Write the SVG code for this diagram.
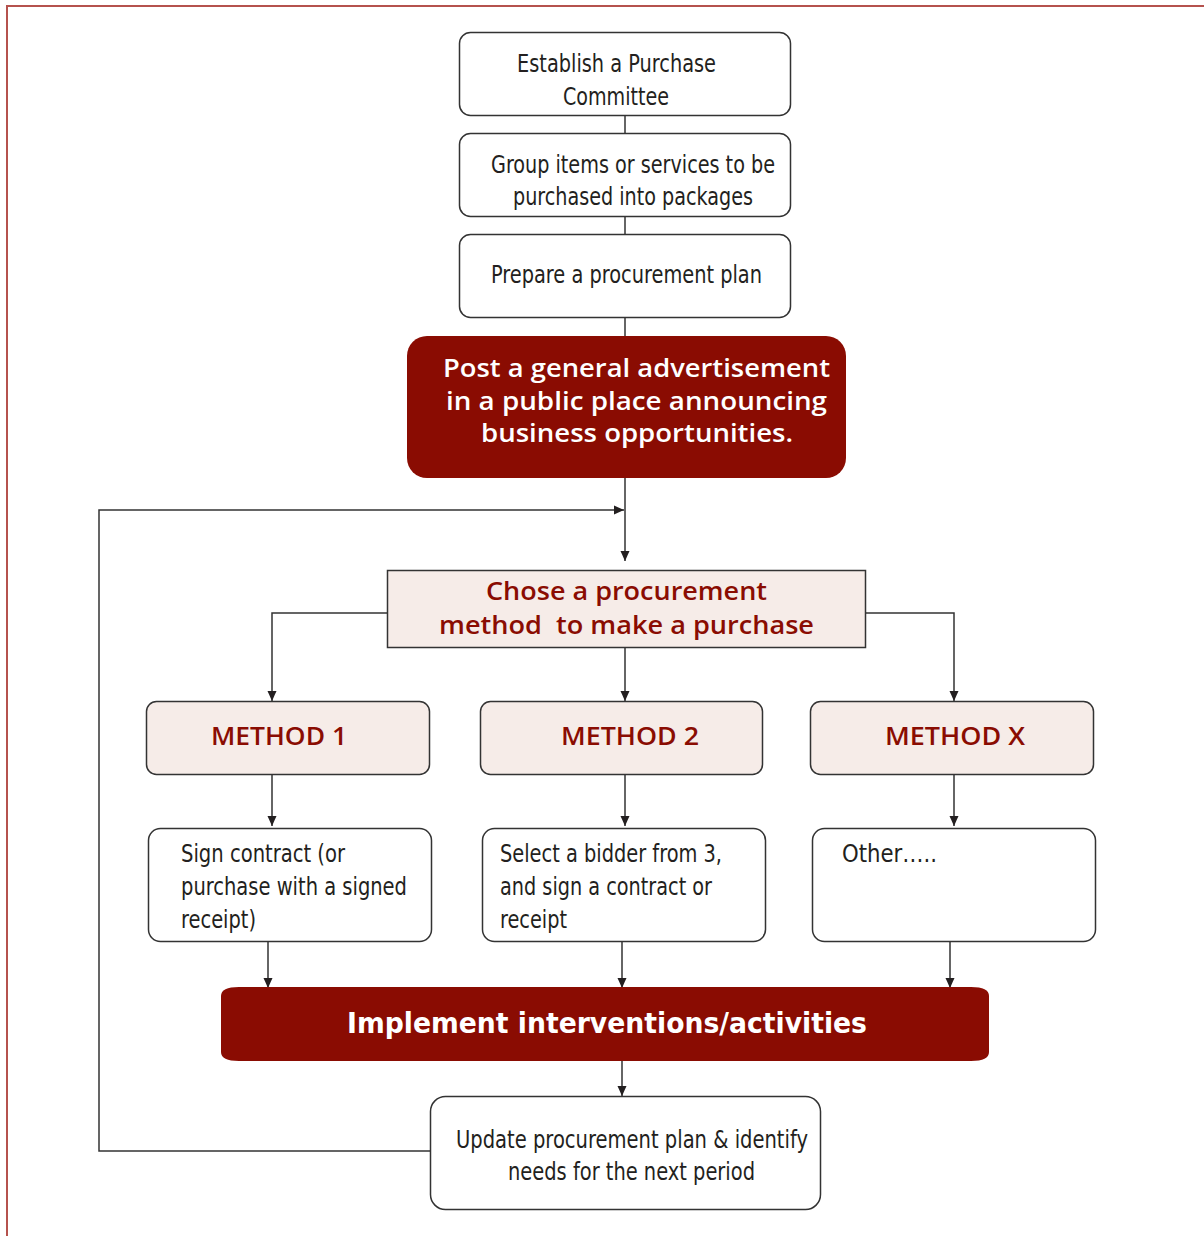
<svg xmlns="http://www.w3.org/2000/svg" width="1204" height="1236" viewBox="0 0 1204 1236">
<style>
.box{fill:#ffffff;stroke:#333333;stroke-width:1.5}
.lt{fill:#f6ece8;stroke:#333333;stroke-width:1.5}
.red{fill:#8a0c02;stroke:none}
.t{font-family:"DejaVu Sans Condensed","DejaVu Sans",sans-serif;font-size:24px;fill:#231f20}
.tb{font-family:"Open Sans","DejaVu Sans",sans-serif;font-weight:600;font-size:25px}
.tc{font-family:"DejaVu Sans Condensed","DejaVu Sans",sans-serif;font-weight:bold;font-size:29px}
.w{fill:#ffffff}
.r{fill:#8a0c02}
.c{text-anchor:middle}
.ln{fill:none;stroke:#333333;stroke-width:1.5}
</style>
<defs>
<marker id="ah" markerUnits="userSpaceOnUse" markerWidth="10" markerHeight="14" viewBox="0 0 10 14" refX="10" refY="7" orient="auto">
<path d="M0,2.5 L10,7 L0,11.5 Z" fill="#231f20"/>
</marker>
</defs>
<rect x="0" y="0" width="1204" height="1236" fill="#ffffff"/>
<path d="M7,1236 V6 H1204" fill="none" stroke="#b5524d" stroke-width="2"/>

<g id="connectors">
<line class="ln" x1="625" y1="116" x2="625" y2="133"/>
<line class="ln" x1="625" y1="216" x2="625" y2="234"/>
<line class="ln" x1="625" y1="317" x2="625" y2="336"/>
<line class="ln" x1="625" y1="478" x2="625" y2="561" marker-end="url(#ah)"/>
<path class="ln" d="M430,1151 H99 V510 H624" marker-end="url(#ah)"/>
<path class="ln" d="M387,613 H272 V701" marker-end="url(#ah)"/>
<path class="ln" d="M866,613 H954 V701" marker-end="url(#ah)"/>
<line class="ln" x1="625" y1="647" x2="625" y2="701" marker-end="url(#ah)"/>
<line class="ln" x1="272" y1="775" x2="272" y2="826" marker-end="url(#ah)"/>
<line class="ln" x1="625" y1="775" x2="625" y2="826" marker-end="url(#ah)"/>
<line class="ln" x1="954" y1="775" x2="954" y2="826" marker-end="url(#ah)"/>
<line class="ln" x1="268" y1="942" x2="268" y2="988" marker-end="url(#ah)"/>
<line class="ln" x1="622" y1="942" x2="622" y2="988" marker-end="url(#ah)"/>
<line class="ln" x1="950" y1="942" x2="950" y2="988" marker-end="url(#ah)"/>
<line class="ln" x1="622" y1="1061" x2="622" y2="1096" marker-end="url(#ah)"/>
</g>

<g id="n1">
<rect class="box" x="459.5" y="32.5" width="331" height="83" rx="11"/>
<text class="t c" x="616.5" y="72" textLength="199" lengthAdjust="spacingAndGlyphs">Establish a Purchase</text>
<text class="t c" x="616" y="105" textLength="106" lengthAdjust="spacingAndGlyphs">Committee</text>
</g>
<g id="n2">
<rect class="box" x="459.5" y="133.5" width="331" height="83" rx="11"/>
<text class="t c" x="633" y="173" textLength="284" lengthAdjust="spacingAndGlyphs">Group items or services to be</text>
<text class="t c" x="633" y="205" textLength="240" lengthAdjust="spacingAndGlyphs">purchased into packages</text>
</g>
<g id="n3">
<rect class="box" x="459.5" y="234.5" width="331" height="83" rx="11"/>
<text class="t c" x="626.5" y="283" textLength="271" lengthAdjust="spacingAndGlyphs">Prepare a procurement plan</text>
</g>
<g id="n4">
<rect class="red" x="407" y="336" width="439" height="142" rx="20"/>
<text class="tb w c" x="636.5" y="377" textLength="387" lengthAdjust="spacingAndGlyphs">Post a general advertisement</text>
<text class="tb w c" x="636.5" y="410" textLength="381" lengthAdjust="spacingAndGlyphs">in a public place announcing</text>
<text class="tb w c" x="637" y="442" textLength="312" lengthAdjust="spacingAndGlyphs">business opportunities.</text>
</g>
<g id="n5">
<rect class="lt" x="387.5" y="570.5" width="478" height="77"/>
<text class="tb r c" x="626.5" y="600" textLength="281" lengthAdjust="spacingAndGlyphs">Chose a procurement</text>
<text class="tb r c" x="626.5" y="634" textLength="375" lengthAdjust="spacingAndGlyphs" xml:space="preserve">method  to make a purchase</text>
</g>
<g id="m1">
<rect class="lt" x="146.5" y="701.5" width="283" height="73" rx="10"/>
<text class="tb r c" x="279" y="745" textLength="136" lengthAdjust="spacingAndGlyphs">METHOD 1</text>
</g>
<g id="m2">
<rect class="lt" x="480.5" y="701.5" width="282" height="73" rx="10"/>
<text class="tb r c" x="630" y="745" textLength="138" lengthAdjust="spacingAndGlyphs">METHOD 2</text>
</g>
<g id="mx">
<rect class="lt" x="810.5" y="701.5" width="283" height="73" rx="10"/>
<text class="tb r c" x="955" y="745" textLength="140" lengthAdjust="spacingAndGlyphs">METHOD X</text>
</g>
<g id="s1">
<rect class="box" x="148.5" y="828.5" width="283" height="113" rx="12"/>
<text class="t" x="181" y="862" textLength="164" lengthAdjust="spacingAndGlyphs">Sign contract (or</text>
<text class="t" x="181" y="895" textLength="226" lengthAdjust="spacingAndGlyphs">purchase with a signed</text>
<text class="t" x="181" y="928" textLength="75" lengthAdjust="spacingAndGlyphs">receipt)</text>
</g>
<g id="s2">
<rect class="box" x="482.5" y="828.5" width="283" height="113" rx="12"/>
<text class="t" x="500" y="862" textLength="222" lengthAdjust="spacingAndGlyphs">Select a bidder from 3,</text>
<text class="t" x="500" y="895" textLength="212" lengthAdjust="spacingAndGlyphs">and sign a contract or</text>
<text class="t" x="500" y="928" textLength="67" lengthAdjust="spacingAndGlyphs">receipt</text>
</g>
<g id="sx">
<rect class="box" x="812.5" y="828.5" width="283" height="113" rx="12"/>
<text class="t" x="842" y="862" textLength="95" lengthAdjust="spacingAndGlyphs">Other…..</text>
</g>
<g id="impl">
<path class="red" d="M239,987 H971 Q989,987 989,996 V1052 Q989,1061 971,1061 H239 Q221,1061 221,1052 V996 Q221,987 239,987 Z"/>
<text class="tc w c" x="607" y="1033" textLength="520" lengthAdjust="spacingAndGlyphs">Implement interventions/activities</text>
</g>
<g id="upd">
<rect class="box" x="430.5" y="1096.5" width="390" height="113" rx="15"/>
<text class="t c" x="632" y="1148" textLength="352" lengthAdjust="spacingAndGlyphs">Update procurement plan &amp; identify</text>
<text class="t c" x="631.5" y="1180" textLength="247" lengthAdjust="spacingAndGlyphs">needs for the next period</text>
</g>
</svg>
